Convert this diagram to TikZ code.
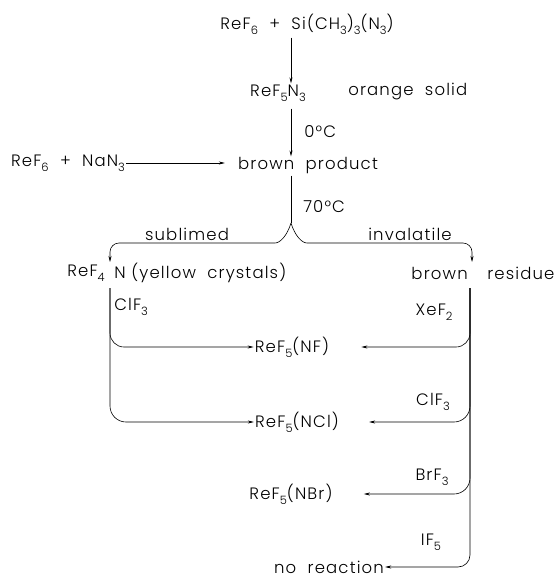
\documentclass[tikz,border=0pt]{standalone}
\usepackage{fontspec}
\setmainfont{Poppins}[UprightFont=* Light, LetterSpace=7]
\usetikzlibrary{arrows.meta}
\newcommand{\chsub}[1]{\raisebox{-0.55ex}{\fontsize{11.5}{12}\selectfont #1}}

\begin{document}
\begin{tikzpicture}[x=1pt, y=-1pt, line width=0.6pt,
  arr/.style={-{Stealth[length=6pt, width=3pt]}},
  lbl/.style={inner sep=1pt, font=\fontsize{16.5}{18}\selectfont}]
\useasboundingbox (0,0) rectangle (554,579);
\coordinate (spine) at (291,0);
\coordinate (bar) at (0,243);
\node[lbl] (top) at (307,24) {ReF\chsub{6}\ \ +\ \ Si(CH\chsub{3})\chsub{3}(N\chsub{3})};
\node[lbl] (rf5) at (278,93) {ReF\chsub{5}N\chsub{3}};
\node[lbl, anchor=west] (orange) at (347,92) {orange\ \ solid};
\draw[arr, shorten <=2pt] (top.south -| spine) -- (rf5.north -| spine);
\node[lbl, anchor=west] (zero) at (303,132) {0°C};
\node[lbl] (brown) at (308,166) {brown\ \ product};
\draw[arr, shorten <=6pt] (rf5.south -| spine) -- (brown.north -| spine);
\node[lbl] (nan) at (68,163) {ReF\chsub{6}\ \ +\ \ NaN\chsub{3}};
\draw[arr, shorten >=12pt] (nan.east) -- (nan.east -| brown.west);
\node[lbl, anchor=west] (seventy) at (302,207) {70°C};
\coordinate (fork) at (291,223);
\draw (brown.south -| spine) -- (fork);
\node[lbl] (subl) at (187,234) {sublimed};
\node[lbl] (inv) at (410,234) {invalatile};
\node[lbl, anchor=east] (rf4) at (106,273) {ReF\chsub{4}};
\node[lbl, anchor=west] (yel) at (113,273) {N (yellow\ \ crystals)};
\node[lbl, anchor=east] (brw) at (469,273) {brown};
\node[lbl, anchor=west] (res) at (486,273) {residue};
\coordinate (lt) at (110,262);
\coordinate (rt) at (472,262);
\draw[arr, rounded corners=9pt] (fork) .. controls (287,236) and (280,243) .. (266,243) -- (bar -| lt) -- (lt);
\draw[arr, rounded corners=9pt] (fork) .. controls (295,236) and (302,243) .. (316,243) -- (bar -| rt) -- (rt);
\node[lbl, anchor=west] (clf) at (113,307) {ClF\chsub{3}};
\node[lbl] (nf) at (292,347) {ReF\chsub{5}(NF)};
\node[lbl] (ncl) at (297,422) {ReF\chsub{5}(NCl)};
\node[lbl] (nbr) at (291,494) {ReF\chsub{5}(NBr)};
\node[lbl] (nor) at (329,567) {no\ \ reaction};
\coordinate (lv) at (110,288);
\draw[arr, rounded corners=14pt] (lv) -- (lv |- nf) -- (nf.west);
\draw[arr, rounded corners=16pt] (lv) -- (lv |- ncl) -- (ncl.west);
\node[lbl] (xef) at (434,312) {XeF\chsub{2}};
\node[lbl] (clf2) at (433,402) {ClF\chsub{3}};
\node[lbl] (brf) at (432,477) {BrF\chsub{3}};
\node[lbl] (iff) at (431,542) {IF\chsub{5}};
\coordinate (rv) at (470,288);
\draw[arr, rounded corners=12pt] (rv) -- (rv |- nor) -- (nor.east);
\draw[arr, rounded corners=14pt] (rv) -- (rv |- nf) -- ([xshift=31pt]nf.east);
\draw[arr, rounded corners=16pt] (rv) -- (rv |- ncl) -- ([xshift=29pt]ncl.east);
\draw[arr, rounded corners=16pt] (rv) -- (rv |- nbr) -- ([xshift=30pt]nbr.east);
\end{tikzpicture}
\end{document}
